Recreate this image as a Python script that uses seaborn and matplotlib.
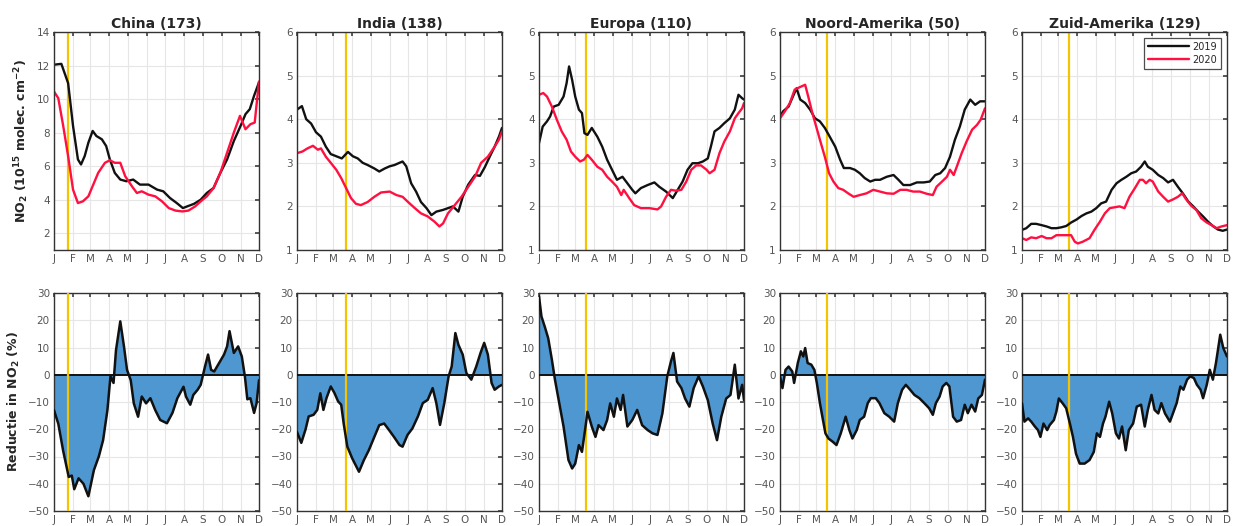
import numpy as np
import pandas as pd
import matplotlib
matplotlib.use("Agg")
import matplotlib.pyplot as plt
import seaborn as sns

# ---------------- data ----------------
regions = ["China (173)", "India (138)", "Europa (110)", "Noord-Amerika (50)", "Zuid-Amerika (129)"]
month_days = [0, 31, 59, 90, 120, 151, 181, 212, 243, 273, 304, 334]
month_labels = ["J", "F", "M", "A", "M", "J", "J", "A", "S", "O", "N", "D"]
lockdown_day = [23, 80, 77, 77, 76]

china_2019_d = [0, 12, 23, 31, 39, 44, 50, 56, 63, 69, 78, 85, 91, 99, 108, 118, 129, 140, 154, 168, 178, 189, 200, 210, 217, 228, 239, 249, 260, 271, 282, 293, 304, 312, 319, 326, 334]
china_2019 = [12.05, 12.1, 10.95, 8.4, 6.4, 6.1, 6.6, 7.4, 8.1, 7.8, 7.6, 7.2, 6.4, 5.6, 5.2, 5.1, 5.2, 4.9, 4.9, 4.6, 4.5, 4.1, 3.8, 3.5, 3.6, 3.75, 4.0, 4.4, 4.7, 5.6, 6.4, 7.5, 8.4, 9.1, 9.4, 10.2, 11.0]
china_2020_d = [0, 7, 15, 23, 31, 39, 47, 56, 64, 72, 83, 91, 99, 108, 116, 127, 135, 143, 154, 165, 176, 187, 198, 209, 219, 230, 239, 249, 260, 271, 282, 293, 303, 312, 320, 327, 334]
china_2020 = [10.45, 10.05, 8.4, 6.6, 4.6, 3.8, 3.9, 4.2, 4.9, 5.6, 6.2, 6.35, 6.2, 6.2, 5.4, 4.8, 4.4, 4.5, 4.3, 4.2, 3.9, 3.5, 3.35, 3.3, 3.35, 3.6, 3.9, 4.2, 4.7, 5.6, 6.8, 8.0, 9.0, 8.2, 8.5, 8.6, 11.05]

india_2019_d = [0, 8, 15, 23, 31, 39, 47, 55, 64, 73, 83, 91, 99, 107, 115, 126, 134, 143, 151, 159, 167, 172, 178, 186, 194, 202, 211, 219, 227, 238, 246, 254, 263, 270, 279, 290, 298, 306, 314, 322, 329, 334]
india_2019 = [4.22, 4.3, 4.0, 3.9, 3.7, 3.6, 3.37, 3.2, 3.15, 3.1, 3.25, 3.15, 3.1, 3.0, 2.95, 2.87, 2.8, 2.87, 2.92, 2.95, 3.0, 3.03, 2.92, 2.53, 2.34, 2.1, 1.96, 1.8, 1.88, 1.92, 1.96, 2.0, 1.88, 2.22, 2.5, 2.72, 2.7, 2.9, 3.14, 3.37, 3.6, 3.8]
india_2020_d = [0, 9, 17, 26, 34, 39, 47, 55, 64, 72, 80, 88, 96, 104, 115, 126, 137, 151, 162, 172, 181, 192, 202, 213, 224, 232, 238, 246, 257, 268, 279, 290, 300, 311, 322, 329, 334]
india_2020 = [3.22, 3.26, 3.33, 3.39, 3.3, 3.33, 3.14, 3.0, 2.84, 2.65, 2.42, 2.19, 2.06, 2.03, 2.1, 2.22, 2.32, 2.34, 2.26, 2.22, 2.1, 1.96, 1.84, 1.77, 1.65, 1.54, 1.61, 1.84, 2.03, 2.22, 2.45, 2.68, 3.0, 3.14, 3.37, 3.53, 3.72]

europa_2019_d = [0, 6, 13, 18, 24, 32, 40, 45, 49, 54, 59, 65, 70, 74, 79, 86, 95, 103, 111, 119, 127, 136, 144, 152, 157, 166, 177, 188, 196, 207, 218, 226, 234, 242, 250, 259, 267, 275, 280, 286, 294, 302, 311, 319, 325, 331, 334]
europa_2019 = [3.45, 3.83, 3.95, 4.06, 4.29, 4.33, 4.52, 4.83, 5.21, 4.9, 4.52, 4.22, 4.14, 3.68, 3.64, 3.8, 3.6, 3.37, 3.07, 2.84, 2.61, 2.68, 2.53, 2.38, 2.3, 2.42, 2.49, 2.55, 2.45, 2.34, 2.19, 2.38, 2.57, 2.84, 2.99, 2.99, 3.03, 3.1, 3.37, 3.72, 3.8, 3.91, 4.02, 4.22, 4.56, 4.48, 4.45]
europa_2020_d = [0, 7, 13, 21, 29, 37, 45, 52, 59, 67, 73, 79, 86, 95, 103, 111, 119, 127, 134, 138, 147, 155, 166, 180, 193, 199, 207, 215, 223, 232, 240, 248, 256, 264, 273, 278, 286, 294, 302, 311, 319, 325, 331, 334]
europa_2020 = [4.56, 4.6, 4.52, 4.29, 3.99, 3.72, 3.53, 3.26, 3.14, 3.03, 3.07, 3.18, 3.07, 2.91, 2.84, 2.68, 2.57, 2.45, 2.26, 2.38, 2.19, 2.03, 1.96, 1.96, 1.93, 2.0, 2.22, 2.38, 2.36, 2.38, 2.57, 2.84, 2.94, 2.94, 2.84, 2.76, 2.84, 3.22, 3.49, 3.72, 4.02, 4.14, 4.25, 4.37]

noord_2019_d = [0, 5, 14, 21, 27, 33, 41, 49, 57, 65, 73, 81, 90, 98, 104, 114, 122, 130, 138, 147, 155, 163, 174, 185, 193, 201, 212, 223, 234, 244, 253, 261, 269, 277, 285, 293, 301, 310, 318, 326, 334]
noord_2019 = [4.06, 4.18, 4.29, 4.52, 4.71, 4.45, 4.37, 4.22, 4.02, 3.95, 3.8, 3.6, 3.37, 3.07, 2.88, 2.88, 2.84, 2.76, 2.65, 2.57, 2.61, 2.61, 2.68, 2.72, 2.61, 2.49, 2.49, 2.55, 2.55, 2.57, 2.72, 2.76, 2.88, 3.14, 3.53, 3.83, 4.22, 4.45, 4.33, 4.41, 4.41]
noord_2020_d = [0, 8, 16, 24, 33, 41, 46, 52, 59, 65, 73, 80, 87, 95, 103, 111, 120, 130, 141, 152, 163, 174, 185, 196, 206, 217, 228, 239, 249, 255, 264, 272, 277, 283, 288, 296, 304, 313, 321, 327, 334]
noord_2020 = [4.02, 4.18, 4.37, 4.68, 4.74, 4.79, 4.52, 4.18, 3.83, 3.53, 3.14, 2.76, 2.57, 2.42, 2.38, 2.3, 2.22, 2.26, 2.3, 2.38, 2.34, 2.3, 2.29, 2.38, 2.38, 2.34, 2.34, 2.29, 2.26, 2.45, 2.57, 2.68, 2.84, 2.72, 2.91, 3.22, 3.49, 3.76, 3.87, 3.99, 4.25]

zuid_2019_d = [0, 7, 15, 23, 32, 40, 48, 56, 64, 72, 80, 89, 97, 105, 113, 121, 129, 137, 146, 154, 162, 170, 178, 186, 194, 200, 205, 213, 222, 230, 238, 246, 254, 262, 271, 279, 287, 295, 303, 311, 319, 327, 334]
zuid_2019 = [1.46, 1.5, 1.6, 1.6, 1.57, 1.54, 1.5, 1.5, 1.52, 1.55, 1.63, 1.7, 1.78, 1.84, 1.88, 1.96, 2.07, 2.11, 2.38, 2.53, 2.61, 2.68, 2.76, 2.8, 2.91, 3.03, 2.91, 2.84, 2.72, 2.65, 2.55, 2.61, 2.45, 2.3, 2.11, 2.0, 1.88, 1.77, 1.65, 1.55, 1.47, 1.44, 1.47]
zuid_2020_d = [0, 7, 15, 23, 32, 40, 48, 56, 64, 72, 80, 86, 91, 99, 110, 118, 127, 135, 143, 151, 159, 167, 175, 184, 192, 197, 202, 208, 213, 222, 230, 238, 246, 254, 261, 268, 276, 284, 292, 301, 309, 317, 325, 334]
zuid_2020 = [1.27, 1.23, 1.29, 1.27, 1.32, 1.27, 1.27, 1.34, 1.34, 1.34, 1.34, 1.19, 1.15, 1.19, 1.27, 1.46, 1.65, 1.84, 1.96, 1.98, 2.0, 1.96, 2.22, 2.42, 2.61, 2.61, 2.53, 2.61, 2.57, 2.34, 2.22, 2.11, 2.16, 2.22, 2.3, 2.15, 2.01, 1.92, 1.73, 1.63, 1.57, 1.5, 1.54, 1.57]

china_red_d = [0, 7, 15, 24, 29, 33, 40, 48, 56, 65, 73, 80, 87, 92, 97, 101, 108, 114, 119, 125, 130, 137, 143, 150, 157, 165, 173, 184, 193, 201, 211, 215, 222, 227, 234, 239, 246, 251, 256, 261, 269, 277, 282, 286, 293, 300, 306, 311, 315, 320, 326, 330, 334]
china_red = [-13, -18, -28, -37.5, -37, -42, -38, -40, -44.6, -35, -30, -24, -13, -0.6, -3, 9, 19.6, 10.4, 1.8, -2, -10.5, -15.4, -8, -10.5, -8.6, -13, -16.6, -17.8, -14, -8.6, -4.4, -8, -11, -7.4, -5.5, -3.7, 3, 7.4, 1.8, 1.2, 4.3, 7.4, 10.4, 16, 8, 10.4, 6.7, -0.6, -9, -8.6, -14, -10.5, -2]
india_red_d = [0, 7, 14, 19, 27, 33, 38, 43, 48, 55, 61, 67, 72, 76, 82, 90, 101, 109, 117, 126, 134, 142, 150, 158, 167, 172, 180, 188, 197, 205, 213, 221, 227, 233, 240, 247, 252, 258, 263, 270, 276, 284, 292, 299, 305, 311, 317, 322, 329, 334]
india_red = [-21, -25, -20, -15.3, -14.7, -12.9, -6.8, -12.9, -8.6, -4.3, -6.7, -9.8, -11, -17.8, -26.4, -30.7, -35.6, -31.3, -27.7, -22.8, -18.5, -17.9, -20.3, -22.8, -25.8, -26.4, -22.1, -19.7, -15.3, -10.4, -9.2, -4.9, -10.4, -18.4, -10.4, -0.6, 3, 15.3, 11, 7.4, 0.6, -1.8, 3, 8, 11.7, 7.4, -3, -5.5, -4.3, -3.7]
europa_red_d = [0, 4, 10, 15, 21, 26, 32, 40, 48, 54, 59, 65, 70, 75, 79, 86, 92, 97, 105, 111, 116, 122, 127, 133, 137, 144, 152, 160, 168, 177, 185, 193, 201, 209, 215, 219, 225, 232, 238, 245, 252, 260, 267, 275, 283, 290, 297, 305, 312, 319, 325, 331, 334]
europa_red = [28.8, 21.4, 17.2, 13.4, 5.5, -1.8, -9.2, -19, -31.3, -34.4, -32.6, -25.8, -28.3, -20.3, -13.6, -19, -22.8, -18.5, -20.3, -16.6, -10.5, -15.4, -8.7, -12.9, -7.4, -19, -16.6, -12.9, -18.5, -20.3, -21.5, -22.1, -14.2, -0.6, 4.9, 8, -2.5, -4.9, -8.7, -11.7, -4.9, -0.6, -4.3, -9.3, -17.9, -24, -15.4, -8.7, -7.4, 3.7, -8.7, -3.7, -9.3]
noord_red_d = [0, 4, 9, 14, 20, 23, 29, 34, 38, 41, 45, 51, 56, 60, 65, 70, 74, 79, 86, 92, 99, 107, 113, 118, 125, 130, 137, 143, 148, 156, 162, 170, 178, 186, 192, 199, 205, 212, 219, 227, 235, 243, 249, 254, 260, 265, 271, 276, 282, 288, 295, 301, 306, 312, 318, 323, 329, 334]
noord_red = [-0.6, -4.9, 1.8, 3, 1.2, -3, 4.3, 8.6, 6.7, 9.8, 4.3, 3.7, 1.8, -3, -10.4, -16.6, -21.5, -23.4, -24.6, -25.8, -21.5, -15.4, -20.3, -23.4, -20.3, -16.6, -15.4, -10.4, -8.6, -8.6, -10.4, -14.1, -15.4, -17.2, -10.4, -5.5, -3.7, -5.5, -7.4, -8.6, -10.4, -12.3, -14.7, -10.4, -8, -4.3, -3, -4.3, -15.4, -17.2, -16.6, -11, -14.1, -11, -13.5, -8.7, -7.4, -1.8]
zuid_red_d = [0, 4, 10, 15, 21, 26, 30, 35, 41, 45, 52, 56, 60, 66, 72, 78, 83, 88, 94, 102, 110, 117, 122, 127, 132, 136, 142, 147, 153, 158, 163, 169, 174, 181, 187, 194, 200, 205, 211, 216, 222, 227, 233, 241, 247, 252, 258, 263, 269, 274, 280, 285, 291, 295, 301, 306, 311, 316, 323, 328, 334]
zuid_red = [-10.5, -17.2, -16, -17.2, -19, -20.3, -22.8, -17.9, -20.3, -18.5, -16.6, -13.5, -8.7, -10.4, -12.3, -17.9, -22.8, -29, -32.6, -32.6, -31.3, -28.3, -21.5, -22.8, -17.9, -15.4, -9.9, -14.2, -21.5, -23.4, -19, -27.7, -20.3, -17.9, -11.7, -11, -19, -12.9, -7.4, -12.9, -14.2, -10.4, -14.2, -17.2, -13.5, -10.4, -4.3, -5.5, -1.8, -0.6, -1.2, -3.7, -5.5, -8.6, -3.7, 1.8, -1.8, 4.3, 14.7, 9.8, 6.7]

top_series = [
    (china_2019_d, china_2019, china_2020_d, china_2020),
    (india_2019_d, india_2019, india_2020_d, india_2020),
    (europa_2019_d, europa_2019, europa_2020_d, europa_2020),
    (noord_2019_d, noord_2019, noord_2020_d, noord_2020),
    (zuid_2019_d, zuid_2019, zuid_2020_d, zuid_2020),
]
red_series = [
    (china_red_d, china_red),
    (india_red_d, india_red),
    (europa_red_d, europa_red),
    (noord_red_d, noord_red),
    (zuid_red_d, zuid_red),
]
top_ylims = [(1, 14), (1, 6), (1, 6), (1, 6), (1, 6)]
top_yticks = [[2, 4, 6, 8, 10, 12, 14], [1, 2, 3, 4, 5, 6], [1, 2, 3, 4, 5, 6], [1, 2, 3, 4, 5, 6], [1, 2, 3, 4, 5, 6]]
red_yticks = [-50, -40, -30, -20, -10, 0, 10, 20, 30]

# ---------------- style ----------------
sns.set_theme(style="white")
plt.rcParams['font.family'] = ['DejaVu Sans']

W, H = 1233, 526
fig = plt.figure(figsize=(W / 100, H / 100), dpi=100)

lefts = [54, 297, 539, 780, 1022]
aw = 205
top_row = (32, 250)
bot_row = (293, 511)

col_2019 = "#111111"
col_2020 = "#ff1040"
col_yellow = "#f5c400"
col_fill = "#4f97d0"
grid_col = "#e6e6e6"


def style_axis(ax):
    ax.set_xlim(0, 334)
    ax.set_xticks(month_days)
    ax.set_xticklabels(month_labels)
    ax.tick_params(axis="both", which="major", direction="in", length=3,
                   labelsize=7.5, labelcolor="#555555", color="#444444",
                   top=True, right=True, pad=3)
    for s in ax.spines.values():
        s.set_color("#333333")
        s.set_linewidth(1.0)
    ax.grid(True, color=grid_col, linewidth=0.8)
    ax.set_axisbelow(True)
    ax.set_xlabel("")
    ax.set_ylabel("")


for i in range(5):
    # top panel
    ax = fig.add_axes([lefts[i] / W, 1 - top_row[1] / H, aw / W, (top_row[1] - top_row[0]) / H])
    d19, v19, d20, v20 = top_series[i]
    df = pd.concat([
        pd.DataFrame({"day": d19, "no2": v19, "jaar": "2019"}),
        pd.DataFrame({"day": d20, "no2": v20, "jaar": "2020"}),
    ])
    ax.axvline(lockdown_day[i], color=col_yellow, lw=1.6, zorder=1)
    sns.lineplot(data=df, x="day", y="no2", hue="jaar", palette={"2019": col_2019, "2020": col_2020},
                 lw=1.7, ax=ax, legend=(i == 4), estimator=None, sort=False)
    ax.set_ylim(*top_ylims[i])
    ax.set_yticks(top_yticks[i])
    style_axis(ax)
    ax.set_title(regions[i], fontsize=10, fontweight="bold", pad=3)
    if i == 0:
        ax.set_ylabel("NO$_\\mathbf{2}$ (10$^\\mathbf{15}$ molec. cm$^\\mathbf{-2}$)",
                      fontsize=9, fontweight="bold")
    if i == 4:
        leg = ax.legend(loc="upper right", fontsize=7, frameon=True, fancybox=False,
                        edgecolor="#222222", handlelength=4.2, borderaxespad=0.6,
                        labelspacing=0.3, handletextpad=0.4)
        leg.get_frame().set_linewidth(0.9)

    # bottom panel
    axb = fig.add_axes([lefts[i] / W, 1 - bot_row[1] / H, aw / W, (bot_row[1] - bot_row[0]) / H])
    dr, vr = red_series[i]
    dfr = pd.DataFrame({"day": dr, "red": vr})
    axb.fill_between(dfr["day"], 0, dfr["red"], color=col_fill, lw=0, zorder=2)
    axb.axhline(0, color="#111111", lw=1.4, zorder=3)
    axb.axvline(lockdown_day[i], color=col_yellow, lw=1.6, zorder=4)
    sns.lineplot(data=dfr, x="day", y="red", color="#111111", lw=1.8, ax=axb,
                 estimator=None, sort=False, zorder=5)
    axb.set_ylim(-50, 30)
    axb.set_yticks(red_yticks)
    style_axis(axb)
    if i == 0:
        axb.set_ylabel("Reductie in NO$_\\mathbf{2}$ (%)", fontsize=9, fontweight="bold")

fig.savefig("out.png", dpi=100)
